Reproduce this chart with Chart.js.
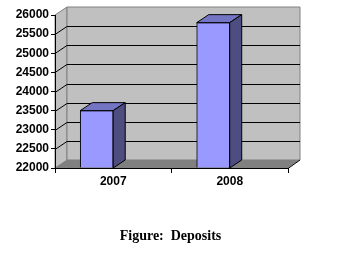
<!DOCTYPE html>
<html>
<head>
<meta charset="utf-8">
<script src="https://cdn.jsdelivr.net/npm/chart.js@4.4.1/dist/chart.umd.min.js"></script>
<style>
  html, body { margin: 0; padding: 0; background: #fff; }
  #wrap { width: 348px; height: 263px; }
</style>
</head>
<body>
<div id="wrap"><canvas id="deposits"></canvas></div>
<script>
// chart values
const years = ["2007", "2008"];
const deposits = [23500, 25800];
const yMin = 22000;
const yMax = 26000;
const yStep = 500;
const figureTitle = "Figure:  Deposits";

// 3d depth of the walls and bars (px)
const DX = 12;
const DY = -8;

const walls3d = {
  id: "walls3d",
  beforeDraw(chart) {
    const { ctx, chartArea } = chart;
    const ys = chart.scales.y;
    const L = chartArea.left, R = chartArea.right;
    const T = ys.getPixelForValue(yMax), B = ys.getPixelForValue(yMin);
    ctx.save();
    // side wall
    ctx.fillStyle = "#c0c0c0";
    ctx.strokeStyle = "#808080";
    ctx.lineWidth = 1;
    ctx.beginPath();
    ctx.moveTo(L, T); ctx.lineTo(L + DX, T + DY); ctx.lineTo(L + DX, B + DY); ctx.lineTo(L, B);
    ctx.closePath(); ctx.fill(); ctx.stroke();
    // back wall
    ctx.beginPath();
    ctx.rect(L + DX, T + DY, R - L, B - T);
    ctx.fill(); ctx.stroke();
    // floor
    ctx.fillStyle = "#808080";
    ctx.beginPath();
    ctx.moveTo(L, B); ctx.lineTo(L + DX, B + DY); ctx.lineTo(R + DX, B + DY); ctx.lineTo(R, B);
    ctx.closePath(); ctx.fill();
    ctx.strokeStyle = "#000";
    ctx.beginPath();
    ctx.moveTo(R, B + 0.5); ctx.lineTo(R + DX, B + DY);
    ctx.stroke();
    // gridlines on side + back wall
    for (let v = yMin + yStep; v < yMax; v += yStep) {
      const py = Math.round(ys.getPixelForValue(v)) + 0.5;
      ctx.beginPath();
      ctx.moveTo(L, py);
      ctx.lineTo(L + DX, py + DY);
      ctx.lineTo(R + DX, py + DY);
      ctx.stroke();
    }
    ctx.restore();
  },
  afterDatasetsDraw(chart) {
    const { ctx } = chart;
    const ys = chart.scales.y;
    const floorY = ys.getPixelForValue(yMin);
    const meta = chart.getDatasetMeta(0);
    ctx.save();
    ctx.strokeStyle = "#000";
    ctx.lineWidth = 1;
    meta.data.forEach((bar) => {
      const p = bar.getProps(["x", "y", "width"], true);
      const l = p.x - p.width / 2, r = p.x + p.width / 2;
      // top face
      ctx.fillStyle = "#7474c4";
      ctx.beginPath();
      ctx.moveTo(l, p.y); ctx.lineTo(l + DX, p.y + DY); ctx.lineTo(r + DX, p.y + DY); ctx.lineTo(r, p.y);
      ctx.closePath(); ctx.fill(); ctx.stroke();
      // side face
      ctx.fillStyle = "#4d4d80";
      ctx.beginPath();
      ctx.moveTo(r, p.y); ctx.lineTo(r + DX, p.y + DY); ctx.lineTo(r + DX, floorY + DY); ctx.lineTo(r, floorY);
      ctx.closePath(); ctx.fill(); ctx.stroke();
    });
    ctx.restore();
  },
  afterDraw(chart) {
    // caption centred under the plot area
    const { ctx, chartArea } = chart;
    ctx.save();
    ctx.fillStyle = "#000";
    ctx.font = "bold 14px 'Liberation Serif', 'Times New Roman', serif";
    ctx.textAlign = "center";
    ctx.textBaseline = "middle";
    ctx.fillText(figureTitle, (chartArea.left + chartArea.right) / 2 - 1, 236);
    ctx.restore();
  }
};

const tickFont = { family: "'Liberation Sans', Arial, sans-serif", size: 12, weight: "bold" };

new Chart(document.getElementById("deposits"), {
  type: "bar",
  data: {
    labels: years,
    datasets: [{
      label: "Deposits",
      data: deposits.map((v, i) => ({ x: i, y: v })),
      xAxisID: "xb",
      backgroundColor: "#9999ff",
      borderColor: "#000",
      borderWidth: 1,
      barThickness: 33,
      base: yMin
    }]
  },
  options: {
    responsive: true,
    maintainAspectRatio: false,
    animation: false,
    devicePixelRatio: 1,
    layout: { padding: { top: 15, right: 60, left: 0, bottom: 65 } },
    plugins: {
      legend: { display: false },
      tooltip: { enabled: false },
      title: { display: false }
    },
    scales: {
      x: {
        type: "category",
        offset: true,
        grid: { offset: true, drawOnChartArea: false, drawTicks: true, tickLength: 5, color: "#000" },
        border: { display: true, color: "#000" },
        ticks: { color: "#000", font: tickFont, padding: 1 },
        afterFit(scale) { scale.height = 30; }
      },
      xb: {
        type: "linear",
        display: false,
        offset: false,
        grid: { offset: false },
        min: -0.358,
        max: 1.642
      },
      y: {
        min: yMin,
        max: yMax,
        grid: { drawOnChartArea: false, drawTicks: true, tickLength: 4, color: "#000" },
        border: { display: true, color: "#000" },
        ticks: { stepSize: yStep, color: "#000", font: tickFont, padding: 2, callback: (v) => String(v) },
        afterFit(scale) { scale.width = 55; }
      }
    }
  },
  plugins: [walls3d]
});
</script>
</body>
</html>
